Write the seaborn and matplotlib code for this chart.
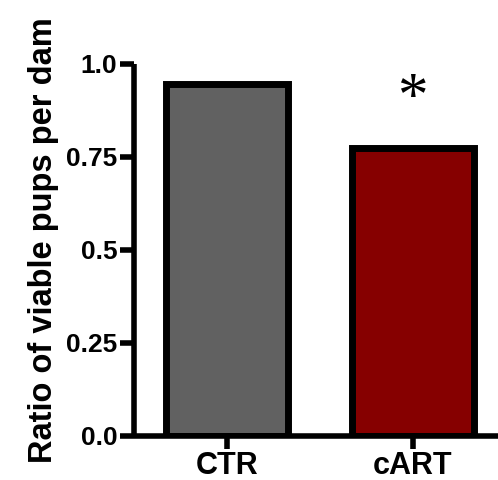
import matplotlib
matplotlib.use("Agg")
import matplotlib.pyplot as plt
import seaborn as sns
import pandas as pd

groups = ["CTR", "cART"]
ratios = [0.946, 0.774]
bar_colors = ["#616161", "#860000"]
y_ticks = [0.0, 0.25, 0.5, 0.75, 1.0]
y_tick_labels = ["0.0", "0.25", "0.5", "0.75", "1.0"]

sns.set_style("ticks")
plt.rcParams["font.family"] = ["Liberation Sans", "DejaVu Sans"]
plt.rcParams["font.weight"] = "bold"
plt.rcParams["text.color"] = "black"
plt.rcParams["axes.labelcolor"] = "black"
plt.rcParams["xtick.color"] = "black"
plt.rcParams["ytick.color"] = "black"
plt.rcParams["axes.edgecolor"] = "black"

df = pd.DataFrame({"group": groups, "ratio": ratios})

fig = plt.figure(figsize=(4.98, 4.80), dpi=100)
ax = fig.add_axes([0.269, 0.0917, 0.735, 0.775])

sns.barplot(data=df, x="group", y="ratio", hue="group", palette=bar_colors,
            saturation=1, width=0.66, edgecolor="black", linewidth=5,
            legend=False, ax=ax)

ax.set_ylim(0, 1.0)
ax.set_xlim(-0.503, 1.47)
ax.set_yticks(y_ticks)
ax.set_yticklabels(y_tick_labels, fontsize=19, fontweight="bold")
ax.tick_params(axis="x", labelsize=22, width=4, length=9, pad=2)
ax.tick_params(axis="y", width=4, length=10, pad=2)
for lab in ax.get_xticklabels():
    lab.set_fontweight("bold")

ax.set_xlabel("")
ax.set_ylabel("Ratio of viable pups per dam", fontsize=23.5, fontweight="bold")
ax.yaxis.set_label_coords(-0.205, 0.527)

for side in ("top", "right"):
    ax.spines[side].set_visible(False)
for side in ("left", "bottom"):
    ax.spines[side].set_linewidth(4)
    ax.spines[side].set_capstyle("butt")

# significance marker above the cART bar
ax.text(1, 0.905, "*", ha="center", va="center", fontsize=44,
        fontfamily="Liberation Serif", fontweight="normal")

fig.savefig("out.png", dpi=100)
